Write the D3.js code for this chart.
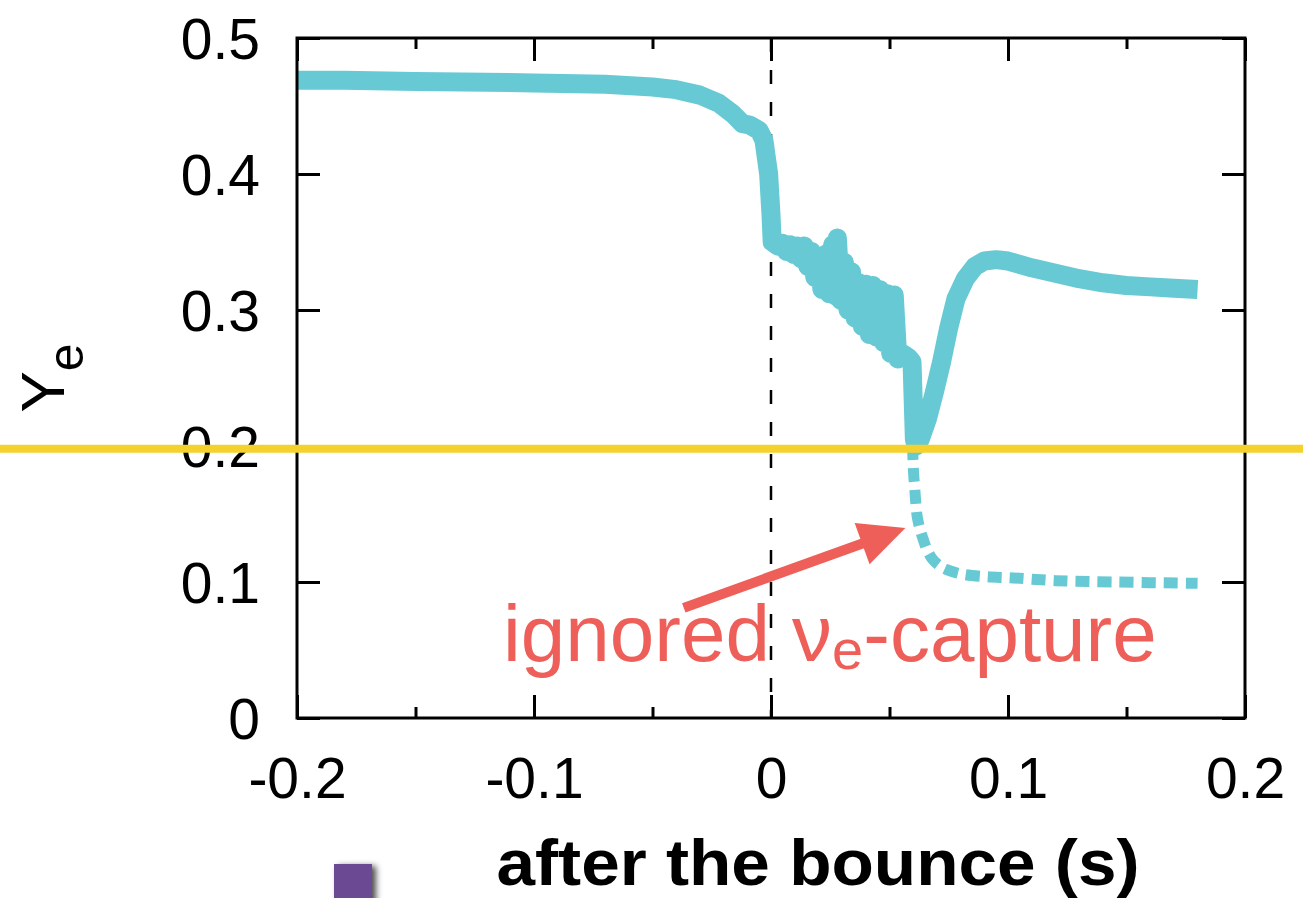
<!DOCTYPE html>
<html>
<head>
<meta charset="utf-8">
<script src="https://cdn.jsdelivr.net/npm/d3@7"></script>
<style>
html,body{margin:0;padding:0;background:#fff;}
svg{display:block;}
text{font-family:"Liberation Sans",Arial,Helvetica,sans-serif;}
</style>
</head>
<body>
<svg id="chart" width="1303" height="898"></svg>
<script>
// ---- data ----
const xMajorTicks = [-0.2, -0.1, 0, 0.1, 0.2];
const xMinorTicks = [-0.15, -0.05, 0.05, 0.15];
const yTicks = [0, 0.1, 0.2, 0.3, 0.4, 0.5];
const xTickLabels = ["-0.2", "-0.1", "0", "0.1", "0.2"];
const yTickLabels = ["0", "0.1", "0.2", "0.3", "0.4", "0.5"];

// Ye with neutrino capture (solid)
const solidT = [-0.200,-0.180,-0.150,-0.100,-0.070,-0.050,-0.040,-0.030,-0.022,-0.016,-0.012,-0.009,-0.005,-0.003,-0.001,0.000,0.0005,0.003,
  0.0050,0.0065,0.0080,0.0095,0.0110,0.0125,0.0140,0.0155,0.0170,0.0185,0.0200,0.0215,0.0230,0.0245,0.0260,0.0275,0.0280,0.0295,0.0310,0.0325,0.0340,0.0355,0.0370,0.0385,0.0400,0.0415,0.0430,0.0445,0.0460,0.0475,0.0490,0.0505,0.0520,0.0535,
  0.0555,0.0580,0.0595,0.0605,0.0612,0.063,0.066,0.069,0.072,0.075,0.078,0.082,0.086,0.090,0.095,0.100,0.110,0.120,0.130,0.140,0.150,0.160,0.170,0.180];
const solidYe = [0.469,0.469,0.468,0.467,0.466,0.464,0.462,0.458,0.452,0.444,0.437,0.436,0.432,0.425,0.400,0.370,0.350,0.347,
  0.349,0.343,0.348,0.341,0.347,0.338,0.347,0.332,0.343,0.324,0.336,0.315,0.341,0.312,0.348,0.310,0.353,0.307,0.335,0.300,0.328,0.294,0.320,0.288,0.319,0.282,0.318,0.280,0.315,0.276,0.312,0.268,0.311,0.264,
  0.268,0.265,0.262,0.205,0.200,0.205,0.220,0.240,0.262,0.287,0.308,0.323,0.332,0.336,0.337,0.336,0.331,0.327,0.323,0.320,0.318,0.317,0.316,0.315];

// Ye with ignored nu_e capture (dashed)
const dashedT = [0.0598,0.0600,0.0606,0.0617,0.0630,0.0643,0.0660,0.0685,0.0720,0.0744,0.0800,0.0900,0.1023,0.1200,0.1446,0.1800];
const dashedYe = [0.200,0.185,0.170,0.148,0.138,0.131,0.123,0.116,0.111,0.109,0.106,0.104,0.103,0.101,0.100,0.099];

const thresholdYe = 0.198;
const bounceT = 0;
const arrowFrom = [-0.0368, 0.081];
const arrowTo = [0.0567, 0.1397];

// ---- layout ----
const W = 1303, H = 898;
const L = 297, R = 1245, T = 38, B = 718;
const cyan = "#67c9d4", red = "#ee5f59", yellow = "#f5d22b";

const svg = d3.select("#chart");
const x = d3.scaleLinear().domain([-0.2, 0.2]).range([L, R]);
const y = d3.scaleLinear().domain([0, 0.5]).range([B, T]);

const defs = svg.append("defs");
const f = defs.append("filter").attr("id","shadow").attr("x","-30%").attr("y","-30%").attr("width","160%").attr("height","160%");
f.append("feDropShadow").attr("dx",4).attr("dy",2).attr("stdDeviation",3).attr("flood-color","#000").attr("flood-opacity",0.7);

// dashed bounce line
svg.append("line")
  .attr("x1", x(bounceT)).attr("x2", x(bounceT))
  .attr("y1", y(0.5)).attr("y2", y(0))
  .attr("stroke", "#000").attr("stroke-width", 2.5)
  .attr("stroke-dasharray", "14,18");

// curves
const solidData = solidT.map((t,i)=>[t, solidYe[i]]);
const dashedData = dashedT.map((t,i)=>[t, dashedYe[i]]);

svg.append("path")
  .datum(dashedData)
  .attr("d", d3.line().x(d=>x(d[0])).y(d=>y(d[1])).curve(d3.curveCatmullRom))
  .attr("fill","none").attr("stroke", cyan).attr("stroke-width", 11)
  .attr("stroke-dasharray","14,8");

svg.append("path")
  .datum(solidData)
  .attr("d", d3.line().x(d=>x(d[0])).y(d=>y(d[1])))
  .attr("fill","none").attr("stroke", cyan).attr("stroke-width", 19)
  .attr("stroke-linejoin","round");

// axes
function styleAxis(g){
  g.select(".domain").remove();
  g.selectAll(".tick line").attr("stroke","#000").attr("stroke-width",3);
  g.selectAll(".tick text").attr("fill","#000").style("font-size","57px")
    .style("font-family",'"Liberation Sans",Arial,Helvetica,sans-serif');
}
svg.append("g").attr("transform",`translate(0,${B})`)
  .call(d3.axisBottom(x).tickValues(xMajorTicks).tickSize(-23).tickPadding(40)
    .tickFormat((d,i)=>xTickLabels[i]))
  .call(styleAxis);
svg.append("g").attr("transform",`translate(0,${B})`)
  .call(d3.axisBottom(x).tickValues(xMinorTicks).tickSize(-11).tickFormat(""))
  .call(styleAxis);
svg.append("g").attr("transform",`translate(0,${T})`)
  .call(d3.axisTop(x).tickValues(xMajorTicks).tickSize(-23).tickFormat(""))
  .call(styleAxis);
svg.append("g").attr("transform",`translate(0,${T})`)
  .call(d3.axisTop(x).tickValues(xMinorTicks).tickSize(-11).tickFormat(""))
  .call(styleAxis);
svg.append("g").attr("transform",`translate(${L},0)`)
  .call(d3.axisLeft(y).tickValues(yTicks).tickSize(-23).tickPadding(37)
    .tickFormat((d,i)=>yTickLabels[i]))
  .call(styleAxis)
  .selectAll(".tick text").attr("dy","0.36em");
svg.append("g").attr("transform",`translate(${R},0)`)
  .call(d3.axisRight(y).tickValues(yTicks).tickSize(-23).tickFormat(""))
  .call(styleAxis);

// frame
svg.append("rect").attr("x",L).attr("y",T).attr("width",R-L).attr("height",B-T)
  .attr("fill","none").attr("stroke","#000").attr("stroke-width",3);

// threshold line (full width)
svg.append("line")
  .attr("x1",0).attr("x2",W)
  .attr("y1",y(thresholdYe)).attr("y2",y(thresholdYe))
  .attr("stroke",yellow).attr("stroke-width",8);

// y label
const yl = svg.append("text")
  .attr("transform",`translate(64,378) rotate(-90)`)
  .attr("text-anchor","middle")
  .style("font-size","62px").attr("fill","#000");
yl.append("tspan").text("Y");
yl.append("tspan").attr("dy",19).style("font-size","50px").text("e");

// x label
svg.append("text")
  .attr("x",818).attr("y",885).attr("text-anchor","middle")
  .style("font-size","64px").style("font-weight","bold").attr("fill","#000")
  .attr("textLength",643).attr("lengthAdjust","spacingAndGlyphs")
  .text("after the bounce (s)");

// annotation arrow
const ax0 = x(arrowFrom[0]), ay0 = y(arrowFrom[1]);
const ax1 = x(arrowTo[0]), ay1 = y(arrowTo[1]);
const dx = ax1-ax0, dy = ay1-ay0, len = Math.hypot(dx,dy);
const ux = dx/len, uy = dy/len, px = -uy, py = ux;
const headL = 46, headW = 22;
const bx = ax1-ux*headL, by = ay1-uy*headL;
svg.append("line").attr("x1",ax0).attr("y1",ay0).attr("x2",bx+ux*4).attr("y2",by+uy*4)
  .attr("stroke",red).attr("stroke-width",10);
svg.append("path")
  .attr("d",`M${ax1},${ay1}L${bx+px*headW},${by+py*headW}L${bx-px*headW},${by-py*headW}Z`)
  .attr("fill",red);

// annotation text
const at = svg.append("text").attr("x",503).attr("y",661)
  .style("font-size","80px").attr("fill",red);
at.append("tspan").text("ignored ν");
at.append("tspan").attr("dy",8).style("font-size","56px").text("e");
at.append("tspan").attr("dy",-8).text("-capture");

// purple square
svg.append("rect").attr("x",334).attr("y",864).attr("width",38).attr("height",42)
  .attr("fill","#6c4893").attr("filter","url(#shadow)");
</script>
</body>
</html>
